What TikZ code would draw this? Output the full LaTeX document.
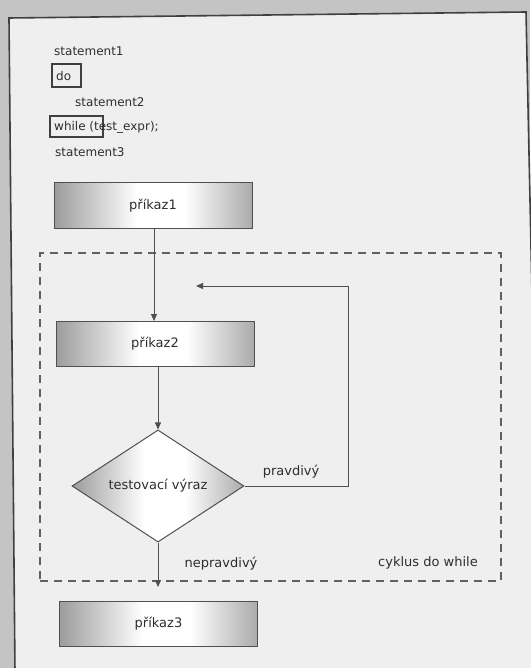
\documentclass[tikz,border=0pt]{standalone}
\usepackage{fontspec}
\setmainfont{DejaVu Sans}
\usetikzlibrary{shapes.geometric,arrows.meta}
\definecolor{pagegrey}{HTML}{C4C4C4}
\definecolor{panel}{HTML}{EFEFEF}
\definecolor{framec}{HTML}{404040}
\definecolor{linec}{HTML}{505050}
\definecolor{dashc}{HTML}{606060}
\definecolor{shadel}{HTML}{9C9C9C}
\definecolor{shader}{HTML}{ABABAB}
\definecolor{textc}{HTML}{2E2E2E}
% grey at both sides, fading smoothly to a white band in the middle
\pgfdeclarehorizontalshading{edgeshade}{100bp}{color(0bp)=(shadel); color(25bp)=(shadel);
  color(46bp)=(white); color(58bp)=(white); color(75bp)=(shader); color(100bp)=(shader)}
\tikzset{
  codetext/.style={anchor=base west,inner sep=0pt,text=textc,font=\fontsize{12}{14}\selectfont},
  marker/.style={draw=framec,line width=1.4pt,inner sep=0pt},
  stepbox/.style={draw=linec,line width=1pt,minimum width=198pt,minimum height=45pt,inner sep=0pt,
    shading=edgeshade,text=textc,font=\fontsize{13}{15}\selectfont},
  testbox/.style={diamond,draw=linec,line width=1pt,minimum width=172pt,minimum height=110pt,inner sep=0pt,
    shading=edgeshade,text=textc,font=\fontsize{13}{15}\selectfont},
  flow/.style={draw=linec,line width=0.9pt,-{Triangle[length=7pt,width=6pt]}},
  label/.style={text=textc,inner sep=0pt,font=\fontsize{13}{15}\selectfont},
  loopframe/.style={draw=dashc,line width=1.3pt,dash pattern=on 8pt off 6pt}
}
\begin{document}
\begin{tikzpicture}[x=1pt,y=-1pt]
  \useasboundingbox (0,0) rectangle (530,668);
  % page background and framed panel
  \fill[pagegrey] (0,0) rectangle (530,668);
  \filldraw[fill=panel,draw=framec,line width=1.6pt] (9,18) -- (526,12) -- (540,672) -- (15,672) -- cycle;

  % source fragment
  \node[codetext] (s1) at (54,56) {statement1};
  \node[marker,minimum width=29pt,minimum height=23pt] (dobox) at (66.5,75.5) {};
  \node[codetext] (kwdo) at (56,81) {do};
  \node[codetext] (s2) at (75,107) {statement2};
  \node[marker,minimum width=53pt,minimum height=21pt] (whilebox) at (76.5,126.5) {};
  \node[codetext] (kwwhile) at (54,131) {while (test\_expr);};
  \node[codetext] (s3) at (55,157) {statement3};

  % loop region
  \node[loopframe,minimum width=461pt,minimum height=328pt,inner sep=0pt] (loop) at (270.5,417) {};
  \node[label] (cyk) at (428,563) {cyklus do while};

  % flowchart
  \node[stepbox] (p1) at (153,205.5) {příkaz1};
  \node[stepbox] (p2) at (155,344) {příkaz2};
  \node[testbox] (t) at (158,486) {testovací výraz};
  \node[stepbox] (p3) at (158.5,624) {příkaz3};

  \coordinate (ret) at (348,286);
  \coordinate (retend) at (196,286);

  \draw[flow] (p1.south -| 154,0) -- (p2.north -| 154,0);
  \draw[flow] (p2.south -| 158,0) -- (t.north);
  \draw[flow] (t.south) -- ([yshift=14pt]p3.north -| t.south);
  \draw[flow] (t.east) -| (ret) -- (retend);

  \node[label] (yes) at (291,472) {pravdivý};
  \node[label] (no) at (221,564) {nepravdivý};
\end{tikzpicture}
\end{document}
